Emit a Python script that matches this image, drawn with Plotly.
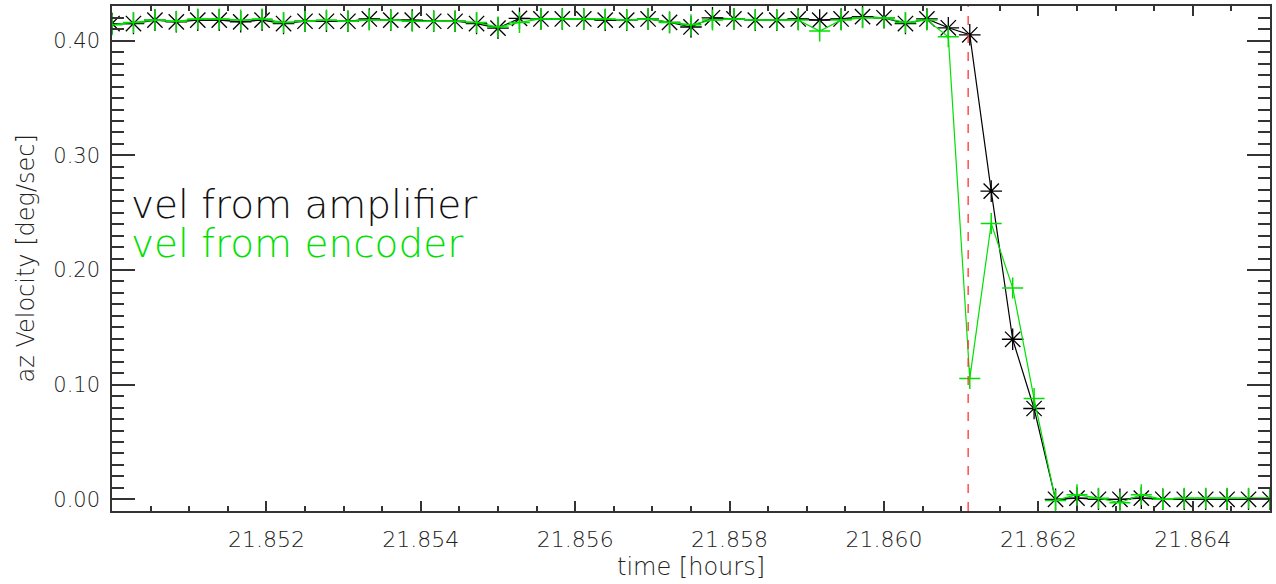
import plotly.graph_objects as go

# time samples [hours]
time_hours = [
    21.850000, 21.850278, 21.850556, 21.850833, 21.851111, 21.851389, 21.851667, 21.851944,
    21.852222, 21.852500, 21.852778, 21.853056, 21.853333, 21.853611, 21.853889, 21.854167,
    21.854444, 21.854722, 21.855000, 21.855278, 21.855556, 21.855833, 21.856111, 21.856389,
    21.856667, 21.856944, 21.857222, 21.857500, 21.857778, 21.858056, 21.858333, 21.858611,
    21.858889, 21.859167, 21.859444, 21.859722, 21.860000, 21.860278, 21.860556, 21.860833,
    21.861111, 21.861389, 21.861667, 21.861944, 21.862222, 21.862500, 21.862778, 21.863056,
    21.863333, 21.863611, 21.863889, 21.864167, 21.864444, 21.864722, 21.865000,
]

# velocity from amplifier [deg/sec]
vel_amplifier = [
    0.415, 0.415, 0.418, 0.4165, 0.418, 0.418, 0.4165, 0.418, 0.415, 0.417,
    0.417, 0.417, 0.419, 0.418, 0.418, 0.417, 0.417, 0.415, 0.411, 0.4195,
    0.419, 0.419, 0.419, 0.418, 0.418, 0.419, 0.416, 0.412, 0.420, 0.419,
    0.418, 0.418, 0.419, 0.418, 0.419, 0.421, 0.420, 0.415, 0.419, 0.4113,
    0.4052, 0.2688, 0.1396, 0.0792, 0.000, 0.001, 0.000, 0.000, 0.001, 0.000,
    0.000, 0.000, 0.000, 0.000, 0.000,
]

# velocity from encoder [deg/sec]
vel_encoder = [
    0.414, 0.416, 0.418, 0.417, 0.419, 0.419, 0.418, 0.419, 0.416, 0.417,
    0.418, 0.417, 0.418, 0.418, 0.417, 0.417, 0.417, 0.416, 0.412, 0.416,
    0.419, 0.419, 0.419, 0.419, 0.418, 0.419, 0.416, 0.414, 0.418, 0.419,
    0.418, 0.418, 0.418, 0.4085, 0.418, 0.420, 0.420, 0.416, 0.418, 0.4035,
    0.1053, 0.2406, 0.1844, 0.0879, -0.001, 0.004, 0.001, -0.003, 0.004, 0.000,
    0.001, 0.001, 0.001, 0.001, 0.001,
]

event_time = 21.86109

x_tick_vals = [21.852, 21.854, 21.856, 21.858, 21.860, 21.862, 21.864]
x_tick_text = ["21.852", "21.854", "21.856", "21.858", "21.860", "21.862", "21.864"]
y_tick_vals = [0.0, 0.1, 0.2, 0.3, 0.4]
y_tick_text = ["0.00", "0.10", "0.20", "0.30", "0.40"]

label_amp = "vel from amplifier"
label_enc = "vel from encoder"
x_title = "time [hours]"
y_title = "az Velocity [deg/sec]"

FONT = "DejaVu Sans"
WEIGHT = 200
AX = "#333333"
TXT = "#222222"
GREEN = "#00e000"

fig = go.Figure()

fig.add_trace(go.Scatter(
    x=time_hours, y=vel_amplifier, mode="lines+markers",
    line=dict(color="black", width=1.2),
    marker=dict(symbol="asterisk-open", size=18, color="black", line=dict(color="black", width=1.3)),
    showlegend=False,
))
fig.add_trace(go.Scatter(
    x=time_hours, y=vel_encoder, mode="lines+markers",
    line=dict(color=GREEN, width=1.2),
    marker=dict(symbol="cross-thin-open", size=15, color=GREEN, line=dict(color=GREEN, width=1.5)),
    showlegend=False,
))

fig.add_shape(type="line", xref="x", yref="paper", x0=event_time, x1=event_time, y0=0, y1=1,
              line=dict(color="#ff3333", width=1.3, dash="dash"))

fig.add_annotation(x=21.85022, y=0.2572, xref="x", yref="y", text=label_amp, showarrow=False,
                   xanchor="left", yanchor="middle",
                   font=dict(family=FONT, size=39, color="#111111", weight=WEIGHT))
fig.add_annotation(x=21.85022, y=0.2231, xref="x", yref="y", text=label_enc, showarrow=False,
                   xanchor="left", yanchor="middle",
                   font=dict(family=FONT, size=39, color=GREEN, weight=WEIGHT))

fig.add_annotation(x=0.5, y=-0.1116, xref="paper", yref="paper", text=x_title, showarrow=False,
                   xanchor="center", yanchor="middle",
                   font=dict(family=FONT, size=24, color=TXT, weight=WEIGHT))
fig.add_annotation(x=-0.0751, y=0.5, xref="paper", yref="paper", text=y_title, showarrow=False,
                   xanchor="center", yanchor="middle", textangle=-90,
                   font=dict(family=FONT, size=24, color=TXT, weight=WEIGHT))

fig.update_layout(
    width=1276, height=584, autosize=False,
    margin=dict(l=112, r=6, t=6, b=73.3, autoexpand=False),
    plot_bgcolor="white", paper_bgcolor="white",
    font=dict(family=FONT, size=21, color=TXT, weight=WEIGHT),
)

fig.update_xaxes(
    range=[21.850, 21.865], tickmode="array", tickvals=x_tick_vals, ticktext=x_tick_text,
    ticks="inside", ticklen=10, tickwidth=1.5, tickcolor=AX,
    minor=dict(ticks="inside", ticklen=5, tickwidth=1.5, tickcolor=AX, tick0=21.850, dtick=0.0005),
    showline=True, linecolor=AX, linewidth=1.5, mirror="allticks",
    showgrid=False, zeroline=False, automargin=False,
    ticklabelstandoff=8,
    tickfont=dict(family=FONT, size=22, color=TXT, weight=WEIGHT),
)
fig.update_yaxes(
    range=[-0.0102, 0.4303], tickmode="array", tickvals=y_tick_vals, ticktext=y_tick_text,
    ticks="inside", ticklen=23, tickwidth=1.5, tickcolor=AX,
    minor=dict(ticks="inside", ticklen=12, tickwidth=1.5, tickcolor=AX, tick0=0.0, dtick=0.01),
    showline=True, linecolor=AX, linewidth=1.5, mirror="allticks",
    showgrid=False, zeroline=False, automargin=False,
    ticklabelstandoff=6,
    tickfont=dict(family=FONT, size=21, color=TXT, weight=WEIGHT),
)

fig.write_html("out.html", config={"displayModeBar": False},
               post_script="document.body.style.margin='0px';document.body.style.overflow='hidden';")
